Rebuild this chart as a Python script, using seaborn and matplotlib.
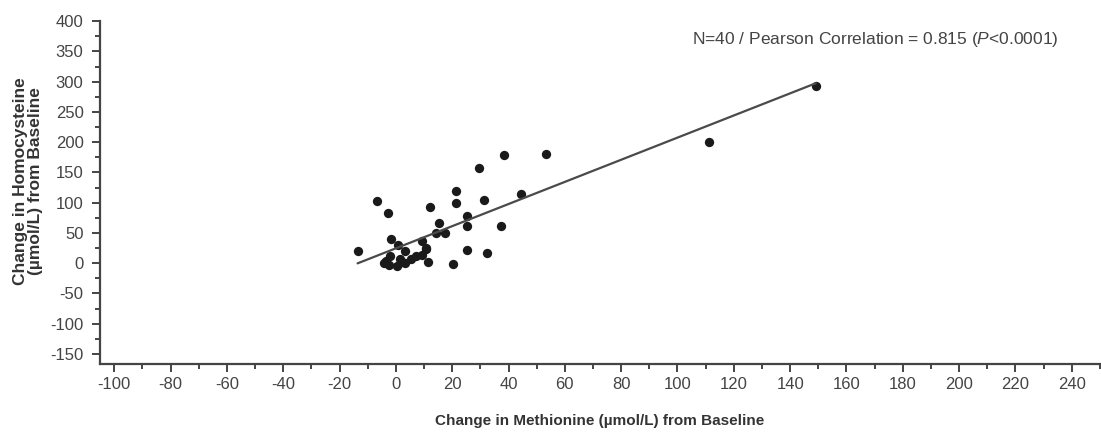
#!/usr/bin/env python3
import matplotlib
matplotlib.use("Agg")
import matplotlib.pyplot as plt
from matplotlib.ticker import MultipleLocator
import seaborn as sns
import pandas as pd
import numpy as np

# Change from baseline per subject (umol/L)
methionine_change = [38.3, 53.3, 29.4, 21.3, -6.6, 31.3, 21.3, 44.4, -2.7, 12.2,
                     25.3, 15.4, 25.3, 37.3, 14.3, 17.5, -1.7, 9.4, 0.6, -13.6,
                     10.7, 3.4, 9.2, 25.4, 32.4, -2.0, -3.5, 1.6, 5.2, -2.5,
                     0.4, 3.4, 11.3, 20.3, 111.3, 149.1, -4.2, 2.2, 10.8, 7.0]
homocysteine_change = [179.3, 180.9, 156.6, 119.3, 102.7, 104.4, 100.2, 114.8, 83.2, 93.1,
                       77.5, 66.6, 61.3, 62.1, 50.0, 50.0, 40.6, 36.1, 30.6, 20.4,
                       25.2, 19.5, 13.8, 21.2, 16.1, 11.6, 3.0, 6.5, 7.1, -2.5,
                       -5.0, -0.3, 2.2, -1.2, 200.1, 292.9, 1.0, 2.0, 24.0, 12.0]

annotation = "N=40 / Pearson Correlation = 0.815 ($\\mathit{P}$<0.0001)"

df = pd.DataFrame({"met": methionine_change, "hcy": homocysteine_change})

sns.set_style("ticks")
plt.rcParams["font.family"] = ["Liberation Sans", "DejaVu Sans"]
plt.rcParams["mathtext.fontset"] = "custom"
plt.rcParams["mathtext.rm"] = "Liberation Sans"
plt.rcParams["mathtext.it"] = "Liberation Sans:italic"
plt.rcParams["axes.unicode_minus"] = False

fig = plt.figure(figsize=(11.01, 4.32), dpi=100)
ax = fig.add_axes([0.091, 0.157, 0.908, 0.794])

sns.regplot(data=df, x="met", y="hcy", ax=ax, ci=None, truncate=True,
            scatter_kws={"s": 45, "color": "#1a1a1a", "alpha": 1, "linewidths": 0},
            line_kws={"color": "#4a4a4a", "lw": 1.6})

ax.set_xlim(-105, 250)
ax.set_ylim(-167, 400)
ax.xaxis.set_major_locator(MultipleLocator(20))
ax.xaxis.set_minor_locator(MultipleLocator(10))
ax.yaxis.set_major_locator(MultipleLocator(50))
ax.yaxis.set_minor_locator(MultipleLocator(25))

sns.despine(ax=ax)
for side in ["left", "bottom"]:
    ax.spines[side].set_color("#444444")
    ax.spines[side].set_linewidth(1.6)
ax.tick_params(which="major", length=6, width=1.4, color="#444444",
               labelsize=12, labelcolor="#444444")
ax.tick_params(which="minor", length=3.5, width=1.4, color="#444444")
ax.tick_params(axis="y", which="major", pad=6)
ax.tick_params(axis="x", which="major", pad=3)

ax.set_xlabel("Change in Methionine (µmol/L) from Baseline", fontsize=11,
              fontweight="bold", color="#333333", labelpad=16)
ax.set_ylabel("Change in Homocysteine\n(µmol/L) from Baseline", fontsize=12.5,
              fontweight="bold", color="#333333", linespacing=1.05)
ax.yaxis.set_label_coords(-0.057, 0.534)

ax.text(0.9585, 0.974, annotation, transform=ax.transAxes, ha="right", va="top",
        fontsize=12.5, color="#444444")

plt.savefig("out.png", dpi=100)
